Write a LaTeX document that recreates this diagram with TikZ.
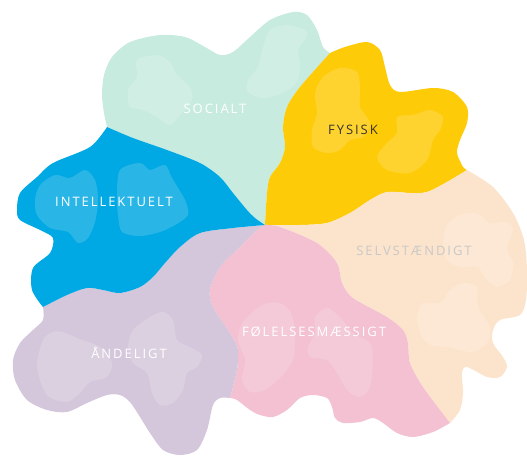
\documentclass[tikz,border=0pt]{standalone}
\usepackage{fontspec}
\setmainfont{Open Sans}
\usepackage{tikz}

\definecolor{mint}{RGB}{200,235,223}
\definecolor{gul}{RGB}{254,203,9}
\definecolor{blaa}{RGB}{0,169,227}
\definecolor{lilla}{RGB}{212,199,219}
\definecolor{rosa}{RGB}{243,193,209}
\definecolor{fersken}{RGB}{252,228,204}
\definecolor{moerk}{RGB}{58,52,44}
\definecolor{graa}{RGB}{200,200,200}

\begin{document}
\begin{tikzpicture}[x=1pt,y=-1pt,
    blob/.style={fill=white,fill opacity=0.16},
    label/.style={anchor=base,inner sep=0pt,text=white,
      font=\fontsize{13}{13}\selectfont\addfontfeatures{LetterSpace=15}}]
\useasboundingbox (0,0) rectangle (527,457);

% Socialt
\fill[mint] plot[smooth] coordinates {(265,225) (255,218) (247,210) (233,193) (220,177) (200,163) (167,150) (133,138) (107,127)}
  -- plot[smooth] coordinates {(107,127) (104,113) (102,95) (104,75) (112,57) (130,42) (160,35) (185,37) (205,47) (220,55) (233,52) (250,37) (270,20) (293,12) (307,15) (317,30) (323,47) (330,53)}
  -- plot[smooth] coordinates {(330,53) (300,87) (287,107) (283,127) (285,147) (280,163) (270,177) (267,193) (265,225)} -- cycle;
\fill[blob] plot[smooth cycle] coordinates {(137,60) (157,55) (170,62) (177,75) (190,87) (192,100) (182,113) (170,125) (157,117) (143,110) (130,107) (128,90) (137,77)};
\fill[blob] plot[smooth cycle] coordinates {(270,30) (287,25) (305,30) (307,37) (298,50) (300,65) (297,82) (283,93) (263,98) (248,92) (248,80) (258,67) (263,47)};

% Fysisk
\fill[gul] plot[smooth] coordinates {(265,225) (267,193) (270,177) (280,163) (285,147) (283,127) (287,107) (300,87) (330,53)}
  -- plot[smooth] coordinates {(330,53) (345,47) (367,42) (380,50) (385,67) (390,85) (400,92) (433,88) (453,92) (467,107) (467,123) (460,140) (457,153) (463,167) (467,170)}
  -- plot[smooth] coordinates {(467,170) (447,182) (427,192) (410,193) (387,192) (370,200) (350,213) (327,223) (300,225) (265,225)} -- cycle;
\fill[blob] plot[smooth cycle] coordinates {(323,77) (340,68) (357,72) (360,90) (360,107) (370,123) (363,137) (350,140) (340,150) (327,153) (313,147) (312,130) (317,113) (315,93)};
\fill[blob] plot[smooth cycle] coordinates {(397,117) (413,115) (430,110) (443,117) (440,130) (433,140) (427,160) (410,173) (387,170) (377,157) (387,143) (397,133)};

% Selvstaendigt
\fill[fersken] plot[smooth] coordinates {(265,225) (300,225) (327,223) (350,213) (370,200) (387,192) (410,193) (427,192) (447,182) (467,170)}
  -- plot[smooth] coordinates {(467,170) (493,187) (513,213) (524,240) (527,270) (526,300) (520,315) (500,320) (493,330) (493,343) (503,357) (507,367) (500,377) (487,377) (467,367) (462,373) (463,393) (460,410) (450,423)}
  -- plot[smooth] coordinates {(450,423) (423,387) (410,363) (408,343) (403,330) (387,317) (353,298) (342,283) (337,263) (317,243) (280,227) (265,225)} -- cycle;
\fill[blob] plot[smooth cycle] coordinates {(460,215) (477,213) (490,223) (507,222) (513,230) (508,243) (507,250) (513,263) (510,280) (497,287) (487,280) (477,267) (460,267) (447,260) (443,243) (447,225)};
\fill[blob] plot[smooth cycle] coordinates {(423,303) (440,303) (450,290) (463,283) (477,287) (478,307) (490,327) (487,343) (473,352) (460,350) (447,347) (430,345) (420,333) (417,317)};

% Foelelsesmaessigt
\fill[rosa] plot[smooth] coordinates {(265,225) (280,227) (317,243) (337,263) (342,283) (353,298) (387,317) (403,330) (408,343) (410,363) (423,387) (450,423)}
  -- plot[smooth] coordinates {(450,423) (433,432) (413,437) (397,433) (383,423) (373,418) (360,422) (343,423) (335,418) (332,407) (327,398) (313,395) (300,398) (287,410) (273,417) (260,415) (250,410) (237,400) (230,398)}
  -- plot[smooth] coordinates {(230,398) (237,370) (238,350) (233,338) (213,307) (210,290) (220,267) (240,247) (257,230) (265,225)} -- cycle;
\fill[blob] plot[smooth cycle] coordinates {(262,305) (280,303) (292,315) (295,340) (293,360) (280,378) (265,390) (250,392) (242,380) (245,360) (238,340) (243,322)};
\fill[blob] plot[smooth cycle] coordinates {(315,317) (327,308) (340,317) (353,333) (370,343) (373,360) (370,387) (360,397) (347,390) (337,373) (327,360) (310,357) (308,347) (315,333)};

% Aandeligt
\fill[lilla] plot[smooth] coordinates {(265,225) (257,230) (240,247) (220,267) (210,290) (213,307) (233,338) (238,350) (237,370) (230,398)}
  -- plot[smooth] coordinates {(230,398) (220,398) (213,405) (207,430) (197,450) (180,455) (163,450) (150,433) (140,417) (130,402) (120,395) (107,395) (87,403) (67,412) (47,410) (27,400) (15,380) (13,360) (20,343) (33,330) (43,320) (43,307)}
  -- plot[smooth] coordinates {(43,307) (67,295) (87,288) (103,290) (120,293) (140,287) (153,277) (165,263) (180,247) (200,233) (233,228) (265,225)} -- cycle;
\fill[blob] plot[smooth cycle] coordinates {(63,332) (77,338) (100,347) (112,363) (107,377) (90,382) (80,393) (67,402) (47,395) (37,367) (43,340) (53,332)};
\fill[blob] plot[smooth cycle] coordinates {(150,317) (163,312) (173,320) (177,340) (190,347) (202,355) (197,367) (187,373) (183,390) (173,403) (160,405) (152,393) (147,373) (133,363) (128,347) (133,330)};

% Intellektuelt
\fill[blaa] plot[smooth] coordinates {(265,225) (233,228) (200,233) (180,247) (165,263) (153,277) (140,287) (120,293) (103,290) (87,288) (67,295) (43,307)}
  -- plot[smooth] coordinates {(43,307) (32,290) (33,268) (50,253) (53,238) (40,230) (20,220) (17,210) (20,193) (37,177) (53,163) (90,147) (107,127)}
  -- plot[smooth] coordinates {(107,127) (133,138) (167,150) (200,163) (220,177) (233,193) (247,210) (255,218) (265,225)} -- cycle;
\fill[blob] plot[smooth cycle] coordinates {(40,185) (55,175) (70,178) (85,170) (95,180) (98,200) (95,222) (88,238) (78,243) (68,232) (50,228) (37,215) (35,200)};
\fill[blob] plot[smooth cycle] coordinates {(120,170) (140,163) (150,170) (165,165) (172,178) (185,200) (188,215) (175,225) (160,232) (140,236) (122,232) (118,215) (117,195)};

\node[label] (socialt) at (215,113.3) {SOCIALT};
\node[label,text=moerk] (fysisk) at (353,135) {FYSISK};
\node[label] (intellektuelt) at (114,207) {INTELLEKTUELT};
\node[label,text=graa] (selvstaendigt) at (414,255) {SELVSTÆNDIGT};
\node[label] (foelelser) at (314,336.7) {FØLELSESMÆSSIGT};
\node[label] (aandeligt) at (129,358) {ÅNDELIGT};
\end{tikzpicture}
\end{document}
